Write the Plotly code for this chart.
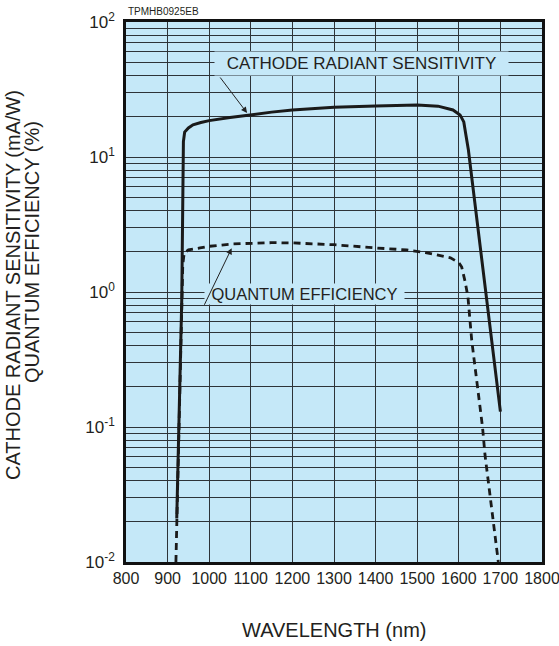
import plotly.graph_objects as go

# Cathode radiant sensitivity (mA/W)
crs_wl = [922, 934, 938, 941, 950, 961, 980, 1000, 1050, 1100, 1150, 1200, 1300, 1400,
          1500, 1550, 1586, 1603, 1612, 1617, 1623, 1700]
crs_val = [0.021, 0.87, 13.0, 15.3, 16.4, 17.3, 18.0, 18.6, 19.6, 20.6, 21.5, 22.3, 23.4, 23.9,
           24.3, 23.8, 22.3, 20.5, 18.2, 14.6, 11.3, 0.13]

# Quantum efficiency (%)
qe_wl = [920, 925, 934, 936.5, 940, 950, 978, 1000, 1057, 1100, 1150, 1200, 1300, 1400,
         1475, 1520, 1562, 1580, 1600, 1607, 1615, 1622, 1631, 1647, 1657, 1663, 1675, 1695]
qe_val = [0.01, 0.05, 0.87, 1.6, 1.95, 2.05, 2.12, 2.18, 2.27, 2.3, 2.32, 2.31, 2.24, 2.12,
          2.05, 1.96, 1.85, 1.79, 1.65, 1.53, 1.2, 0.92, 0.44, 0.18, 0.1, 0.062, 0.032, 0.01]

x_ticks = [800, 900, 1000, 1100, 1200, 1300, 1400, 1500, 1600, 1700, 1800]
y_ticks = [0.01, 0.1, 1, 10, 100]
y_ticktext = ["10<sup>-2</sup>", "10<sup>-1</sup>", "10<sup>0</sup>", "10<sup>1</sup>", "10<sup>2</sup>"]

FONT = "Liberation Sans, Arial, sans-serif"
TXT = "#231f20"
BG = "#c5e8f8"
GRID = "#2e3338"

fig = go.Figure()
fig.add_trace(go.Scatter(x=crs_wl, y=crs_val, mode="lines",
                         line=dict(color="#1a1a1a", width=3), showlegend=False))
fig.add_trace(go.Scatter(x=qe_wl, y=qe_val, mode="lines",
                         line=dict(color="#1a1a1a", width=2.8, dash="7px,5px"), showlegend=False))

fig.update_layout(
    width=559, height=646,
    margin=dict(l=126, r=17, t=22, b=84, autoexpand=False),
    paper_bgcolor="white", plot_bgcolor=BG,
    font=dict(family=FONT, color=TXT),
    xaxis=dict(range=[800, 1800], tickmode="array", tickvals=x_ticks, automargin=False,
               showgrid=True, gridcolor=GRID, gridwidth=1, zeroline=False,
               showline=True, linecolor="#111", linewidth=2.5, mirror=True,
               ticks="", ticklabeloverflow="allow",
               tickfont=dict(size=16, color=TXT, family=FONT)),
    yaxis=dict(type="log", range=[-2, 2], tickmode="array", tickvals=y_ticks, ticktext=y_ticktext,
               automargin=False,
               showgrid=True, gridcolor=GRID, gridwidth=1, zeroline=False,
               showline=True, linecolor="#111", linewidth=2.5, mirror=True,
               ticks="outside", ticklen=5, tickcolor="rgba(0,0,0,0)",
               tickfont=dict(size=17, color=TXT, family=FONT),
               minor=dict(dtick="D1", showgrid=True, gridcolor=GRID, gridwidth=1, ticks="")),
)

annos = [
    # labels with box masking the grid
    dict(x=1366, y=1.689, xref="x", yref="y", text="CATHODE RADIANT SENSITIVITY",
         showarrow=False, bgcolor=BG, width=293, height=23, borderpad=0,
         font=dict(size=17, color=TXT, family=FONT)),
    dict(x=1229, y=-0.015, xref="x", yref="y", text="QUANTUM EFFICIENCY",
         showarrow=False, bgcolor=BG, width=199, height=20, borderpad=0,
         font=dict(size=16.5, color=TXT, family=FONT)),
    # arrows
    dict(x=1091, y=1.326, xref="x", yref="y", text="", showarrow=True,
         ax=-28, ay=-37, arrowhead=2, arrowsize=1.2, arrowwidth=1, arrowcolor="#222", standoff=0),
    dict(x=1054, y=0.324, xref="x", yref="y", text="", showarrow=True,
         ax=-28, ay=58, arrowhead=2, arrowsize=1.2, arrowwidth=1, arrowcolor="#222", standoff=0),
    # code label
    dict(x=0, y=1, xref="paper", yref="paper", xanchor="left", yanchor="bottom", yshift=3,
         text="TPMHB0925EB", showarrow=False, font=dict(size=10, color=TXT, family=FONT)),
    # axis titles
    dict(x=0.5, y=0, xref="paper", yref="paper", yanchor="middle", yshift=-68,
         text="WAVELENGTH (nm)", showarrow=False, font=dict(size=20, color=TXT, family=FONT)),
    dict(x=13, y=285, xref="paper", yref="paper", text="CATHODE RADIANT SENSITIVITY (mA/W)",
         showarrow=False, textangle=-90, font=dict(size=20, color=TXT, family=FONT)),
    dict(x=32, y=252, xref="paper", yref="paper", text="QUANTUM EFFICIENCY (%)",
         showarrow=False, textangle=-90, font=dict(size=20, color=TXT, family=FONT)),
]
# convert pixel positions of y-title annotations into paper coords
plot_l, plot_t, plot_w, plot_h = 126, 22, 416, 540
for a in annos[-2:]:
    a["x"] = (a["x"] - plot_l) / plot_w
    a["y"] = 1 - (a["y"] - plot_t) / plot_h
    a["xanchor"] = "center"
    a["yanchor"] = "middle"
fig.update_layout(annotations=annos)

fig.write_html("out.html", config={"displayModeBar": False},
               post_script="document.body.style.margin='0';document.body.style.overflow='hidden';")
